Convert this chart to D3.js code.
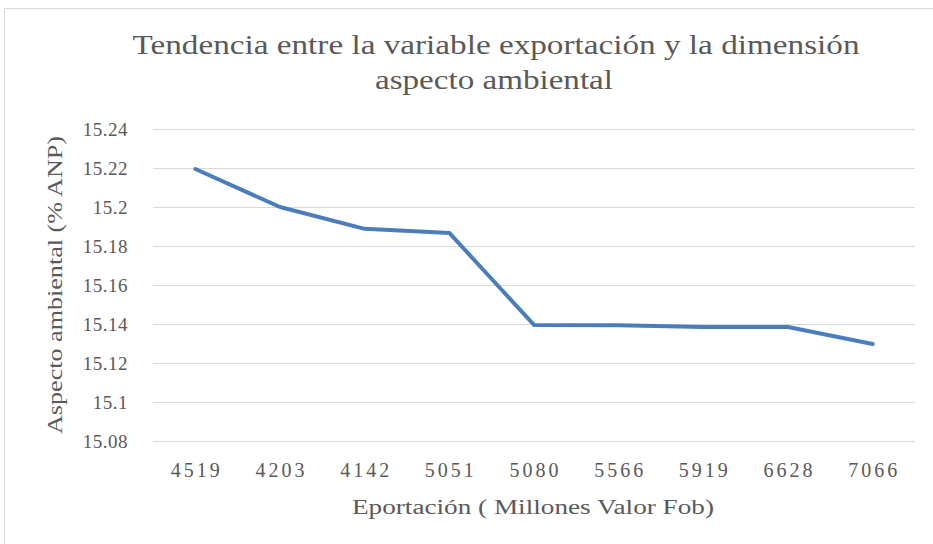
<!DOCTYPE html>
<html lang="es">
<head>
<meta charset="UTF-8">
<title>Tendencia</title>
<script src="https://d3js.org/d3.v7.min.js"></script>
<style>
  body { margin: 0; background: #fff; }
  text { font-family: "Liberation Serif", "DejaVu Serif", serif; fill: #595959; }
</style>
</head>
<body>
<script>
// datos
var categorias = ["4519", "4203", "4142", "5051", "5080", "5566", "5919", "6628", "7066"];
var valores = [15.2195, 15.2, 15.1888, 15.1867, 15.1395, 15.1393, 15.1385, 15.1385, 15.1297];
var ticksY = [15.08, 15.1, 15.12, 15.14, 15.16, 15.18, 15.2, 15.22, 15.24];

var width = 933, height = 544;
var margin = {top: 129, right: 18, bottom: 103, left: 153};

var svg = d3.select("body").append("svg")
  .attr("width", width)
  .attr("height", height);

// marco del grafico
svg.append("rect")
  .attr("x", 4.5).attr("y", 8.5)
  .attr("width", width).attr("height", height)
  .style("fill", "#fff")
  .style("stroke", "#d9d9d9");

var x = d3.scaleBand()
  .domain(categorias)
  .range([margin.left, width - margin.right]);

var y = d3.scaleLinear()
  .domain([15.08, 15.24])
  .range([height - margin.bottom, margin.top]);

// lineas de cuadricula
svg.append("g")
  .attr("transform", "translate(" + margin.left + ",0)")
  .call(d3.axisLeft(y).tickValues(ticksY).tickSize(-(width - margin.left - margin.right)).tickFormat(""))
  .call(function(g) { g.select(".domain").remove(); })
  .selectAll("line")
  .style("stroke", "#d9d9d9");

// etiquetas eje y
svg.append("g")
  .attr("transform", "translate(131,0)")
  .call(d3.axisLeft(y).tickValues(ticksY).tickSize(0).tickFormat(function(d) { return String(+d.toFixed(2)); }))
  .call(function(g) { g.select(".domain").remove(); })
  .selectAll("text")
  .style("font-family", "'Liberation Serif', serif")
  .style("font-size", "19px")
  .style("letter-spacing", "0.5px")
  .style("fill", "#595959")
  .attr("dy", "0.35em");

// etiquetas eje x
svg.append("g")
  .attr("transform", "translate(1.5," + (height - margin.bottom + 19) + ")")
  .call(d3.axisBottom(x).tickSize(0))
  .call(function(g) { g.select(".domain").remove(); })
  .selectAll("text")
  .style("font-family", "'Liberation Serif', serif")
  .style("font-size", "20px")
  .style("letter-spacing", "3px")
  .style("fill", "#595959")
  .attr("dy", "0.71em");

var line = d3.line()
  .x(function(d, i) { return x(categorias[i]) + x.bandwidth() / 2; })
  .y(function(d) { return y(d); });

svg.append("path")
  .datum(valores)
  .attr("d", line)
  .style("fill", "none")
  .style("stroke", "#4a7ebb")
  .style("stroke-width", 4)
  .style("stroke-linejoin", "round")
  .style("stroke-linecap", "round");

// titulo
svg.append("text")
  .attr("x", 496).attr("y", 54)
  .attr("text-anchor", "middle")
  .style("font-size", "27px")
  .attr("textLength", 727)
  .attr("lengthAdjust", "spacingAndGlyphs")
  .text("Tendencia entre la variable exportación y la dimensión");

svg.append("text")
  .attr("x", 494).attr("y", 89)
  .attr("text-anchor", "middle")
  .style("font-size", "27px")
  .attr("textLength", 238)
  .attr("lengthAdjust", "spacingAndGlyphs")
  .text("aspecto ambiental");

// titulos de ejes
svg.append("text")
  .attr("x", 533).attr("y", 514)
  .attr("text-anchor", "middle")
  .style("font-size", "20px")
  .attr("textLength", 362)
  .attr("lengthAdjust", "spacingAndGlyphs")
  .text("Eportación  ( Millones Valor Fob)");

svg.append("text")
  .attr("transform", "translate(62,285) rotate(-90)")
  .attr("text-anchor", "middle")
  .style("font-size", "20px")
  .attr("textLength", 298)
  .attr("lengthAdjust", "spacingAndGlyphs")
  .text("Aspecto ambiental  (% ANP)");
</script>
</body>
</html>
